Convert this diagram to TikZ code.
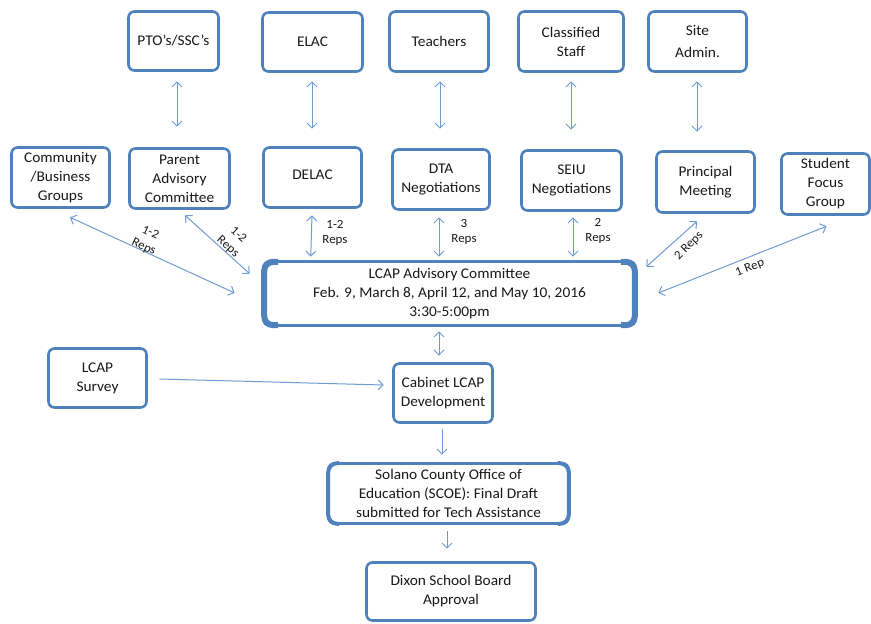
\documentclass[tikz,border=0pt]{standalone}
\usepackage{fontspec}
\setmainfont{Carlito}[FakeStretch=1.04]
\usetikzlibrary{arrows.meta}
\definecolor{boxblue}{HTML}{4F81BD}
\definecolor{arrblue}{HTML}{6E9BD3}
\tikzset{
  box/.style={draw=boxblue, line width=2.6pt, rounded corners=6pt, fill=white,
    align=center, inner sep=0pt, font=\fontsize{14.8}{19}\selectfont, text=black!90},
  arr/.style={draw=arrblue, line width=1pt, {Straight Barb[length=5pt,width=10pt]}-{Straight Barb[length=5pt,width=10pt]}},
  arrone/.style={draw=arrblue, line width=1pt, -{Straight Barb[length=5pt,width=10pt]}},
  lbl/.style={font=\fontsize{12.5}{15.5}\selectfont, align=center, text=black!90, inner sep=0pt},
  thickside/.style={draw=boxblue, line width=6pt, rounded corners=9pt}
}
\begin{document}
\begin{tikzpicture}[x=1pt,y=-1pt]
\useasboundingbox (0,0) rectangle (871,624);
% top row
\node[box, minimum width=90, minimum height=59] (pto) at (173.5,41) {PTO’s/SSC’s};
\node[box, minimum width=100, minimum height=59] (elac) at (312.5,42) {\raisebox{-3pt}{ELAC}};
\node[box, minimum width=99, minimum height=60] (teach) at (439,41.5) {Teachers};
\node[box, minimum width=105, minimum height=60] (class) at (571,41.5) {Classified\\Staff};
\node[box, minimum width=98, minimum height=60] (site) at (697.5,41.5) {Site\\[3pt]Admin.};
% middle row
\node[box, minimum width=98, minimum height=60] (comm) at (60.5,177.5) {Community\\/Business\\Groups};
\node[box, minimum width=100, minimum height=60] (parent) at (179.5,178.5) {Parent\\Advisory\\Committee};
\node[box, minimum width=98, minimum height=60] (delac) at (312.5,177.5) {\raisebox{5pt}{DELAC}};
\node[box, minimum width=97, minimum height=60] (dta) at (441,179.5) {DTA\\Negotiations};
\node[box, minimum width=100, minimum height=60] (seiu) at (571.5,180.5) {SEIU\\Negotiations};
\node[box, minimum width=98, minimum height=61] (princ) at (705.5,182) {Principal\\Meeting};
\node[box, minimum width=88, minimum height=61] (student) at (825.5,184) {Student\\Focus\\Group};
% LCAP
\node[box, minimum width=372, minimum height=64] (lcap) at (449.5,293.5) {};
\draw[thickside] ([shift={(16,1.6)}]lcap.north west) -- ([shift={(2,1.6)}]lcap.north west) -- ([shift={(2,-1.6)}]lcap.south west) -- ([shift={(16,-1.6)}]lcap.south west);
\draw[thickside] ([shift={(-16,1.6)}]lcap.north east) -- ([shift={(-2,1.6)}]lcap.north east) -- ([shift={(-2,-1.6)}]lcap.south east) -- ([shift={(-16,-1.6)}]lcap.south east);
\node[box, draw=none, fill=none] (lcaptext) at (lcap.center) {LCAP Advisory Committee\\Feb. 9, March 8, April 12, and May 10, 2016\\3:30-5:00pm};
% lower
\node[box, minimum width=98, minimum height=59] (survey) at (97.5,378) {LCAP\\Survey};
\node[box, minimum width=99, minimum height=59] (cabinet) at (443,393) {Cabinet LCAP\\Development};
\node[box, minimum width=240, minimum height=60] (scoe) at (448.5,493.5) {};
\draw[thickside, line width=4pt] ([shift={(12,1)}]scoe.north west) -- ([shift={(1,1)}]scoe.north west) -- ([shift={(1,-1)}]scoe.south west) -- ([shift={(12,-1)}]scoe.south west);
\draw[thickside, line width=4pt] ([shift={(-12,1)}]scoe.north east) -- ([shift={(-1,1)}]scoe.north east) -- ([shift={(-1,-1)}]scoe.south east) -- ([shift={(-12,-1)}]scoe.south east);
\node[box, draw=none, fill=none] (scoetext) at (scoe.center) {Solano County Office of\\Education (SCOE): Final Draft\\submitted for Tech Assistance};
\node[box, minimum width=169, minimum height=58] (dixon) at (451,591.5) {Dixon School Board\\Approval};
% vertical arrows top
\draw[arr] ([shift={(3.5,9.5)}]pto.south) -- ([shift={(-2.5,-20.5)}]parent.north);
\draw[arr] ([shift={(-0.5,8.5)}]elac.south) -- ([shift={(-0.5,-17.5)}]delac.north);
\draw[arr] ([shift={(1,8.5)}]teach.south) -- ([shift={(-1,-19.5)}]dta.north);
\draw[arr] ([shift={(0,8.5)}]class.south) -- ([shift={(-0.5,-19.5)}]seiu.north);
\draw[arr] ([shift={(-0.5,8.5)}]site.south) -- ([shift={(-8.5,-18.5)}]princ.north);
% to LCAP
\draw[arr] ([shift={(9.5,8.5)}]comm.south) -- ([shift={(-27.5,-0.5)}]lcap.west);
\draw[arr] ([shift={(5.5,5.5)}]parent.south) -- ([shift={(-12.5,13.5)}]lcap.north west);
\draw[arr] ([shift={(-0.5,6.5)}]delac.south) -- ([shift={(48.5,-3.5)}]lcap.north west);
\draw[arr] ([shift={(-2,6.5)}]dta.south) -- ([shift={(-10.5,-3.5)}]lcap.north);
\draw[arr] ([shift={(1.5,5.5)}]seiu.south) -- ([shift={(123.5,-3.5)}]lcap.north);
\draw[arr] ([shift={(-8.5,7.5)}]princ.south) -- ([shift={(9.5,6.5)}]lcap.north east);
\draw[arr] ([shift={(1,10.5)}]student.south) -- ([shift={(21.5,-0.5)}]lcap.east);
% below
\draw[arr] ([shift={(-10.5,4.5)}]lcap.south) -- ([shift={(-4,-6.5)}]cabinet.north);
\draw[arrone] ([shift={(11.5,1)}]survey.east) -- ([shift={(-8.5,-8)}]cabinet.west);
\draw[arrone] ([shift={(-1,5.5)}]cabinet.south) -- ([shift={(-6.5,-7.5)}]scoe.north);
\draw[arrone] ([shift={(-1.5,6.5)}]scoe.south) -- ([shift={(-4,-12.5)}]dixon.north);
% labels
\node[lbl, rotate=-25] (l1) at (147,240) {1-2\\Reps};
\node[lbl, rotate=-42] (l2) at (233,241) {1-2\\Reps};
\node[lbl] (l3) at (335,233) {1-2\\Reps};
\node[lbl] (l4) at (464,232) {3\\Reps};
\node[lbl] (l5) at (598,231) {2\\Reps};
\node[lbl, rotate=45] (l6) at (689,246) {2 Reps};
\node[lbl, rotate=21] (l7) at (750,268) {1 Rep};
\end{tikzpicture}
\end{document}
